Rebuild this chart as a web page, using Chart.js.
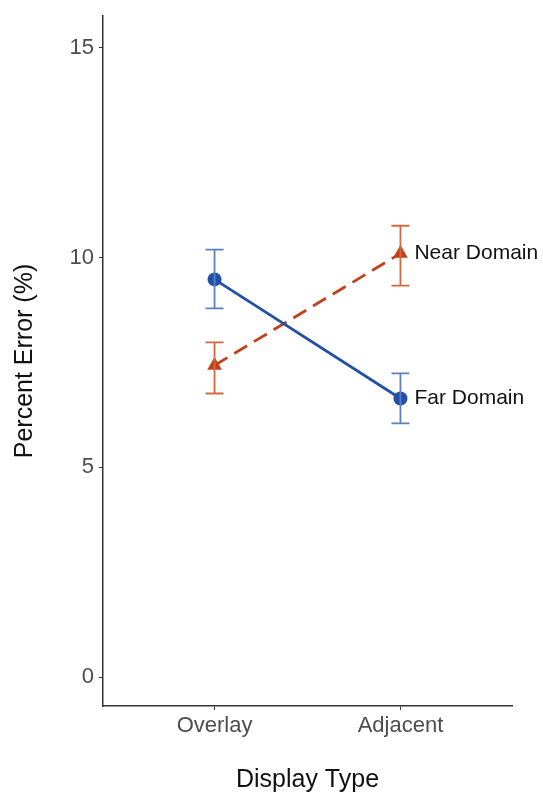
<!DOCTYPE html>
<html>
<head>
<meta charset="utf-8">
<script src="https://cdn.jsdelivr.net/npm/chart.js@4.4.1/dist/chart.umd.min.js"></script>
<style>
    html, body { margin: 0; padding: 0; background: #fff; }
    #wrap { width: 543px; height: 793px; }
</style>
</head>
<body>
<div id="wrap"><canvas id="chart" width="543" height="793"></canvas></div>
<script>
// 데이터
const categories = ['Overlay', 'Adjacent'];
const yTicks = [0, 5, 10, 15];

const farMean = [9.48, 6.64];
const farLow = [8.79, 6.05];
const farHigh = [10.19, 7.24];

const nearMean = [7.43, 10.1];
const nearLow = [6.76, 9.33];
const nearHigh = [7.98, 10.76];

const seriesNames = ['Far Domain', 'Near Domain'];

const FONT = '"Liberation Sans", Arial, sans-serif';
const BLUE = '#2150a6';
const BLUE_BAR = '#5c7fc2';
const ORANGE = '#c1411a';
const ORANGE_BAR = '#d3683f';

const toPoints = arr => arr.map((v, i) => ({ x: i + 1, y: v }));

// 오차막대 + 끝 라벨
const errorBarPlugin = {
    id: 'errorBars',
    afterDatasetsDraw(chart) {
        const ctx = chart.ctx;
        const xs = chart.scales.x;
        const ys = chart.scales.y;
        const sets = [
            { low: farLow, high: farHigh, color: BLUE_BAR },
            { low: nearLow, high: nearHigh, color: ORANGE_BAR }
        ];
        ctx.save();
        sets.forEach(s => {
            ctx.strokeStyle = s.color;
            ctx.lineWidth = 1.8;
            s.low.forEach((lo, i) => {
                const px = xs.getPixelForValue(i + 1);
                const pLo = ys.getPixelForValue(lo);
                const pHi = ys.getPixelForValue(s.high[i]);
                ctx.beginPath();
                ctx.moveTo(px, pLo); ctx.lineTo(px, pHi);
                ctx.moveTo(px - 9, pLo); ctx.lineTo(px + 9, pLo);
                ctx.moveTo(px - 9, pHi); ctx.lineTo(px + 9, pHi);
                ctx.stroke();
            });
        });
        ctx.restore();
    },
    afterDraw(chart) {
        const ctx = chart.ctx;
        const xs = chart.scales.x;
        const ys = chart.scales.y;
        const last = categories.length - 1;
        ctx.save();
        ctx.font = '21px ' + FONT;
        ctx.fillStyle = '#111';
        ctx.textBaseline = 'middle';
        ctx.textAlign = 'left';
        const px = xs.getPixelForValue(last + 1) + 14;
        ctx.fillText(seriesNames[0], px, ys.getPixelForValue(farMean[last]));
        ctx.fillText(seriesNames[1], px, ys.getPixelForValue(nearMean[last]));
        ctx.restore();
    }
};

new Chart(document.getElementById('chart'), {
    type: 'line',
    data: {
        datasets: [
            {
                label: seriesNames[0],
                data: toPoints(farMean),
                borderColor: BLUE,
                backgroundColor: BLUE,
                borderWidth: 2.8,
                pointStyle: 'circle',
                pointRadius: 7,
                pointBorderWidth: 0
            },
            {
                label: seriesNames[1],
                data: toPoints(nearMean),
                borderColor: ORANGE,
                backgroundColor: ORANGE,
                borderWidth: 2.8,
                borderDash: [15, 8],
                pointStyle: 'triangle',
                pointRadius: 8.5,
                pointBorderWidth: 0
            }
        ]
    },
    options: {
        responsive: false,
        animation: false,
        layout: { padding: { top: 13, right: 31, left: 0, bottom: 0 } },
        plugins: {
            legend: { display: false },
            tooltip: { enabled: false }
        },
        scales: {
            x: {
                type: 'linear',
                min: 0.4,
                max: 2.6,
                afterBuildTicks: scale => {
                    scale.ticks = categories.map((c, i) => ({ value: i + 1 }));
                },
                afterFit: scale => { scale.height = 87; },
                ticks: {
                    callback: v => categories[v - 1],
                    color: '#4d4d4d',
                    font: { family: FONT, size: 22, lineHeight: 1 },
                    padding: 5
                },
                grid: { drawOnChartArea: false, drawTicks: true, tickLength: 4, color: '#333' },
                border: { color: '#333', width: 1.5 },
                title: {
                    display: true,
                    text: 'Display Type',
                    color: '#111',
                    font: { family: FONT, size: 25, lineHeight: 1 },
                    padding: { top: 0, bottom: 0 }
                }
            },
            y: {
                min: -0.69,
                max: 15.76,
                afterBuildTicks: scale => {
                    scale.ticks = yTicks.map(v => ({ value: v }));
                },
                afterFit: scale => { scale.width = 103; },
                ticks: {
                    color: '#4d4d4d',
                    font: { family: FONT, size: 22, lineHeight: 1 },
                    padding: 5
                },
                grid: { drawOnChartArea: false, drawTicks: true, tickLength: 4, color: '#333' },
                border: { color: '#333', width: 1.5 },
                title: {
                    display: true,
                    text: 'Percent Error (%)',
                    color: '#111',
                    font: { family: FONT, size: 25, lineHeight: 1 },
                    padding: { top: 13 }
                }
            }
        }
    },
    plugins: [errorBarPlugin]
});
</script>
</body>
</html>
